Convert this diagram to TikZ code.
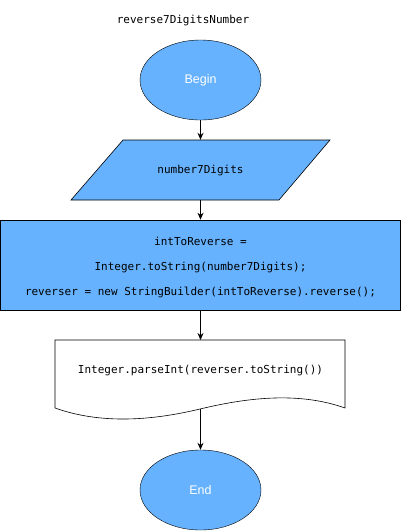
\documentclass[tikz,border=0pt]{standalone}
\usepackage{fontspec}
\setmainfont{Liberation Sans}
\setsansfont{Liberation Sans}
\setmonofont{DejaVu Sans Mono}
\usepackage{tikz}
\usetikzlibrary{arrows.meta, shapes.geometric}
\definecolor{flowblue}{RGB}{102, 178, 255}

\begin{document}
\begin{tikzpicture}[x=1pt, y=-1pt, >={Stealth[length=7pt, width=6pt]},
  terminal/.style={ellipse, draw=black, fill=flowblue, minimum width=121pt,
    minimum height=80pt, inner sep=0pt, text=white, font=\sffamily\fontsize{12.5}{14}\selectfont},
  code/.style={font=\ttfamily\fontsize{11}{13}\selectfont, inner sep=0pt},
  flow/.style={->, line width=0.8pt}]

  \useasboundingbox (0, 0) rectangle (401, 531);

  % Title
  \node[code] (title) at (183, 20) {reverse7DigitsNumber};

  % Begin
  \node[terminal] (begin) at (200.5, 80) {Begin};

  % Input: parallelogram
  \fill[flowblue] (123, 140) -- (330, 140) -- (279, 200) -- (71, 200) -- cycle;
  \draw[line width=0.6pt] (123, 140) -- (330, 140) -- (279, 200) -- (71, 200) -- cycle;
  \node[code, minimum width=150pt, minimum height=60pt] (input) at (200.5, 170) {number7Digits};

  % Process block
  \node[draw, fill=flowblue, line width=0.6pt, minimum width=400pt, minimum height=90pt,
    inner sep=0pt] (proc) at (200.5, 265) {};
  \node[code] (line1) at (200.5, 241) {intToReverse =};
  \node[code] (line2) at (200.5, 267) {Integer.toString(number7Digits);};
  \node[code] (line3) at (200.5, 292) {reverser = new StringBuilder(intToReverse).reverse();};

  % Output: document shape
  \draw[line width=0.6pt, fill=white] (55, 340) -- (345, 340) -- (345, 408)
    .. controls (300, 392) and (250, 397) .. (200, 409)
    .. controls (150, 421) and (100, 424) .. (55, 408) -- cycle;
  \node[code] (output) at (200.5, 370) {Integer.parseInt(reverser.toString())};
  \coordinate (outtop) at (200.5, 340);
  \coordinate (outbot) at (200.5, 409);

  % End
  \node[terminal] (end) at (200.5, 490) {End};

  % Connectors
  \draw[flow] (begin.south) -- (input.north);
  \draw[flow] (input.south) -- (proc.north);
  \draw[flow] (proc.south) -- (outtop);
  \draw[flow] (outbot) -- (end.north);

\end{tikzpicture}
\end{document}
